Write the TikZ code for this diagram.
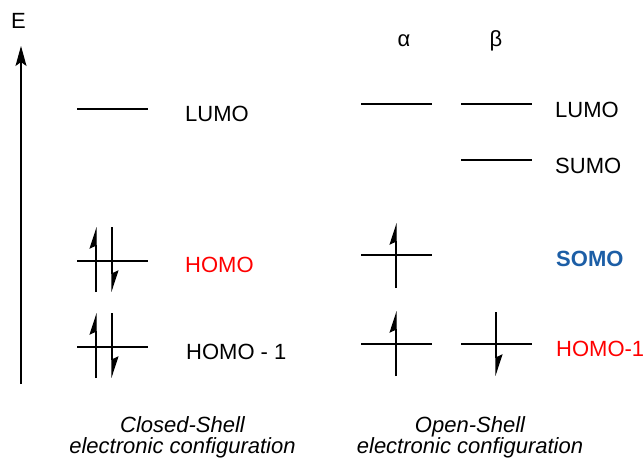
\documentclass[tikz,border=0pt]{standalone}
\usepackage{fontspec}
\setmainfont{Liberation Sans}
\usetikzlibrary{arrows.meta}
\definecolor{somoblue}{RGB}{28,94,166}
\begin{document}
\begin{tikzpicture}[x=1pt,y=-1pt,
  level/.style={line width=1.1pt},
  spin/.style={line width=1.1pt},
  upe/.style={spin,-{Stealth[left,length=20pt,width=13pt,inset=3pt]}},
  lab/.style={anchor=west,inner sep=0pt,font=\fontsize{22}{24}\selectfont},
  captext/.style={anchor=base,inner sep=0pt,font=\fontsize{22}{24}\selectfont\itshape}]
\useasboundingbox (0,0) rectangle (644,458);
% energy axis
\coordinate (ax0) at (21,384);
\coordinate (ax1) at (21,46);
\draw[line width=1.1pt,-{Stealth[length=20pt,width=11pt,inset=4pt]}] (ax0) -- (ax1);
\node[inner sep=0pt,font=\fontsize{22}{24}\selectfont] (E) at (18.5,21) {E};
% closed shell
\draw[level] (77,109) -- (148,109);
\node[lab] (cl1) at (185,114) {LUMO};
\draw[level] (77,261) -- (148,261);
\draw[upe] (96,292) -- (96,227);
\draw[upe] (112,227) -- (112,292);
\node[lab,text=red] (cl2) at (185,265) {HOMO};
\draw[level] (77,347) -- (148,347);
\draw[upe] (96,378) -- (96,313);
\draw[upe] (112,313) -- (112,378);
\node[lab] (cl3) at (186,352) {HOMO - 1};
% open shell
\node[anchor=base,inner sep=0pt,font=\fontsize{22}{24}\selectfont] (al) at (404,46) {α};
\node[anchor=base,inner sep=0pt,font=\fontsize{22}{24}\selectfont] (be) at (496,46) {β};
\draw[level] (361,104) -- (432,104);
\draw[level] (461,104) -- (532,104);
\node[lab] (op1) at (555,110) {LUMO};
\draw[level] (461,160) -- (532,160);
\node[lab] (op2) at (555,166) {SUMO};
\draw[level] (361,255) -- (432,255);
\draw[upe] (396,288) -- (396,223);
\node[lab,text=somoblue,font=\fontsize{22}{24}\selectfont\bfseries] (op3) at (556,259) {SOMO};
\draw[level] (361,344) -- (432,344);
\draw[upe] (396,376) -- (396,311);
\draw[level] (461,344) -- (532,344);
\draw[upe] (496,312) -- (496,376);
\node[lab,text=red] (op4) at (556,349) {HOMO-1};
% captions
\node[captext] (c1a) at (182.5,432) {Closed-Shell};
\node[captext] (c1b) at (182.5,453) {electronic configuration};
\node[captext] (c2a) at (470,432) {Open-Shell};
\node[captext] (c2b) at (470,453) {electronic configuration};
\end{tikzpicture}
\end{document}
